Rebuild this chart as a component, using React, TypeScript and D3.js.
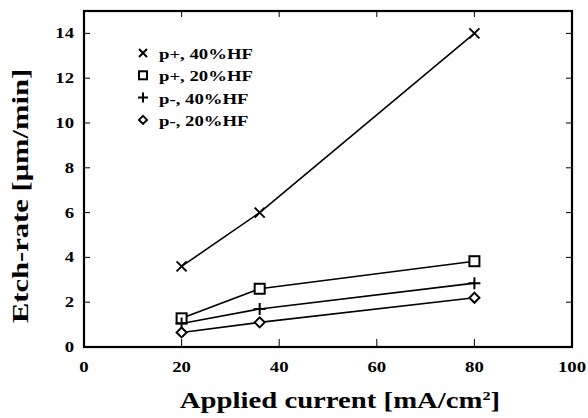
import React from 'react';
import * as d3 from 'd3';

const current = [20, 36, 80];
const pPlus40 = [3.6, 6.0, 14.0];
const pPlus20 = [1.28, 2.6, 3.83];
const pMinus40 = [1.05, 1.7, 2.85];
const pMinus20 = [0.65, 1.1, 2.2];
const seriesNames = ['p+, 40%HF', 'p+, 20%HF', 'p-, 40%HF', 'p-, 20%HF'];
const xTicks = [0, 20, 40, 60, 80, 100];
const yTicks = [0, 2, 4, 6, 8, 10, 12, 14];

const W = 588;
const H = 418;
const m = { left: 84, right: 16, top: 11, bottom: 71 };
const font = '"Liberation Serif", "Times New Roman", serif';
// the scanned figure's type is wider than Times, so stretch it sideways
const SX = 1.25;

function Label({ x, y, anchor, size, children, rotate, sx = SX }: any) {
  const tf = rotate ? `translate(${x},${y}) rotate(-90) scale(${sx},1)` : `translate(${x},${y}) scale(${sx},1)`;
  return (
    <g transform={tf}>
      <text textAnchor={anchor} fontFamily={font} fontWeight="bold" fontSize={size}>{children}</text>
    </g>
  );
}

function Marker({ kind, x, y, k = 1 }: { kind: string; x: number; y: number; k?: number }) {
  const s = 5 * k;
  if (kind === 'x')
    return <path d={`M${x - s},${y - s}L${x + s},${y + s}M${x - s},${y + s}L${x + s},${y - s}`} stroke="#000" strokeWidth={2} />;
  if (kind === 'square')
    return <rect x={x - s} y={y - s} width={2 * s} height={2 * s} fill="#fff" stroke="#000" strokeWidth={2} />;
  if (kind === 'plus')
    return <path d={`M${x - s - 1},${y}L${x + s + 1},${y}M${x},${y - s - 1}L${x},${y + s + 1}`} stroke="#000" strokeWidth={2} />;
  return <path d={`M${x},${y - s}L${x + s},${y}L${x},${y + s}L${x - s},${y}Z`} fill="#fff" stroke="#000" strokeWidth={2} />;
}

export default function App() {
  const x = d3.scaleLinear().domain([0, 100]).range([m.left, W - m.right]);
  const y = d3.scaleLinear().domain([0, 15]).range([H - m.bottom, m.top]);
  const series = [pPlus40, pPlus20, pMinus40, pMinus20];
  const kinds = ['x', 'square', 'plus', 'diamond'];
  const line = d3.line<number>().x((_, i) => x(current[i])).y(v => y(v));
  const x0 = x(0), x1 = x(100), y0 = y(0), y1 = y(15);

  return (
    <svg width={W} height={H} style={{ position: 'absolute', left: 0, top: 0, background: '#fff' }}>
      {yTicks.map(t => (
        <g key={'y' + t}>
          <line x1={x0} x2={x0 + 6} y1={y(t)} y2={y(t)} stroke="#000" strokeWidth={1} />
          <line x1={x1} x2={x1 - 6} y1={y(t)} y2={y(t)} stroke="#000" strokeWidth={1} />
          <Label x={74} y={y(t) + 5} anchor="end" size={15}>{t}</Label>
        </g>
      ))}
      {xTicks.map(t => (
        <g key={'x' + t}>
          <line x1={x(t)} x2={x(t)} y1={y0} y2={y0 - 8} stroke="#000" strokeWidth={1} />
          <line x1={x(t)} x2={x(t)} y1={y1} y2={y1 + 6} stroke="#000" strokeWidth={1} />
          <Label x={x(t)} y={y0 + 25} anchor="middle" size={15}>{t}</Label>
        </g>
      ))}
      <rect x={x0} y={y1} width={x1 - x0} height={y0 - y1} fill="none" stroke="#000" strokeWidth={2.2} />
      {series.map((s, i) => (
        <g key={i}>
          <path d={line(s) || ''} fill="none" stroke="#000" strokeWidth={1.6} />
          {s.map((v, j) => <Marker key={j} kind={kinds[i]} x={x(current[j])} y={y(v)} />)}
        </g>
      ))}
      {seriesNames.map((n, i) => {
        const ly = 53 + i * 22.3;
        return (
          <g key={n}>
            <Marker kind={kinds[i]} x={143} y={ly} k={0.8} />
            <Label x={159} y={ly + 6} anchor="start" size={15}>{n}</Label>
          </g>
        );
      })}
      <Label x={28} y={196} anchor="middle" size={23} sx={1.33} rotate>Etch-rate [μm/min]</Label>
      <Label x={340} y={408} anchor="middle" size={23}>
        Applied current [mA/cm<tspan dy={-8} fontSize={13}>2</tspan><tspan dy={8}>]</tspan>
      </Label>
    </svg>
  );
}
